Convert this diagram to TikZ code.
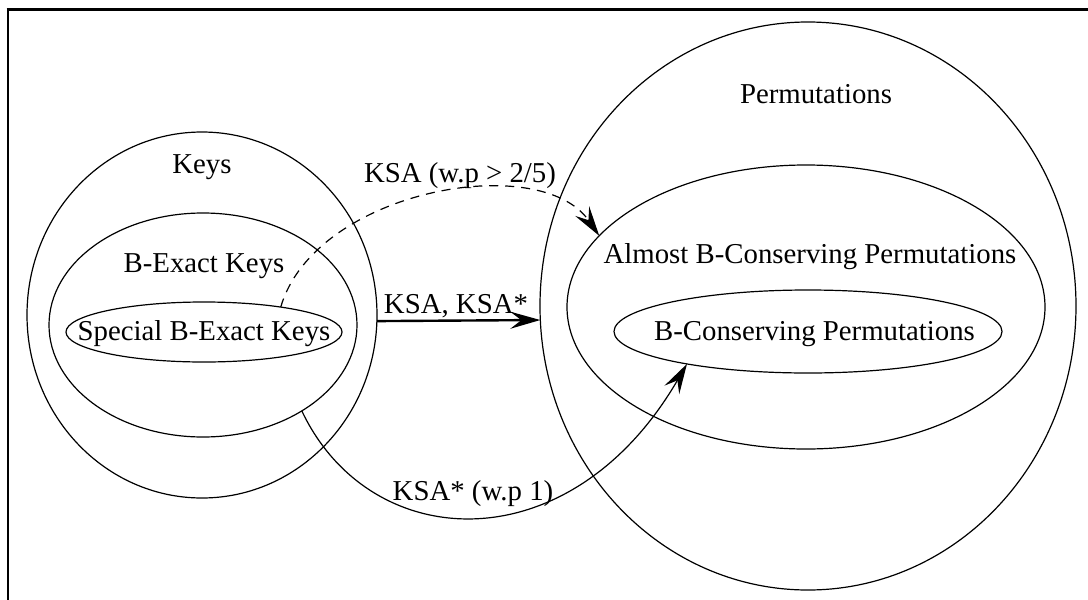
\documentclass[tikz,border=0pt]{standalone}
\usepackage{fontspec}
\setmainfont{Liberation Serif}
\usetikzlibrary{shapes.geometric,arrows.meta}
\begin{document}
\begin{tikzpicture}[x=1pt,y=-1pt,
  setshape/.style={ellipse,draw,line width=1.2pt,inner sep=0pt,outer sep=0pt},
  lbl/.style={anchor=base,inner sep=0pt,font=\fontsize{28.8}{34}\selectfont},
  tipa/.style={-{Stealth[length=30pt,width=17pt,inset=11pt]}},
  conn/.style={line width=1.2pt}]
\useasboundingbox (0,0) rectangle (1088,600);
% frame
\draw[line width=1.5pt] (8,600) -- (8,9);
\draw[line width=3pt] (6.5,9) -- (1088,9);
% sets
\node[setshape,minimum width=350pt,minimum height=366pt] (keys) at (202,315) {};
\node[setshape,minimum width=308pt,minimum height=224pt] (bexact) at (203,325) {};
\node[setshape,minimum width=276pt,minimum height=60pt] (special) at (204,332) {};
\node[setshape,minimum width=536pt,minimum height=568pt] (perm) at (808,306) {};
\node[setshape,minimum width=478pt,minimum height=284pt] (almost) at (806,307) {};
\node[setshape,minimum width=388pt,minimum height=83pt] (bcons) at (808,331.5) {};
% labels
\node[lbl] (tkeys) at (202,173) {Keys};
\node[lbl] (tbexact) at (204,272) {B-Exact Keys};
\node[lbl] (tspecial) at (204,340) {Special B-Exact Keys};
\node[lbl] (tperm) at (816,103) {Permutations};
\node[lbl] (talmost) at (810,263) {Almost B-Conserving Permutations};
\node[lbl] (tbcons) at (814.5,340) {B-Conserving Permutations};
\node[lbl] (ta) at (460,182) {KSA (w.p > 2/5)};
\node[lbl] (tb) at (456,313) {KSA, KSA*};
\node[lbl] (tc) at (473,500) {KSA* (w.p 1)};
% connectors
\draw[tipa,line width=2.4pt] (keys.-2.6) -- (perm.183.6);
\draw[tipa,conn,dash pattern=on 9pt off 7pt] (special.18) .. controls (315,190) and (540,150) .. (almost.161.8);
\draw[tipa,conn] (bexact.-41) .. controls (370,555) and (570,565) .. (bcons.195.1);
\end{tikzpicture}
\end{document}
